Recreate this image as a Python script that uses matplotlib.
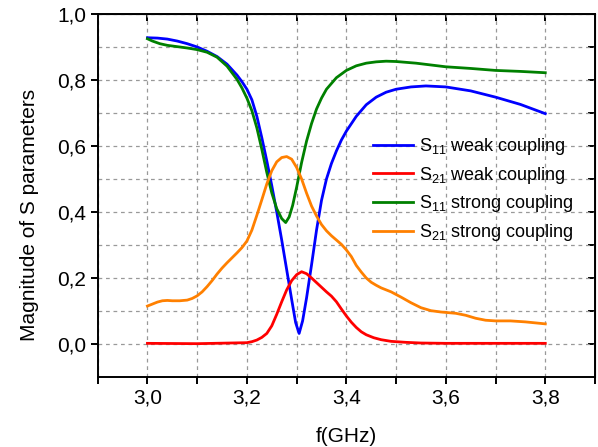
import numpy as np
import matplotlib
matplotlib.use('Agg')
import matplotlib.pyplot as plt
from matplotlib.ticker import FuncFormatter

plt.rcParams['font.family'] = ['Liberation Sans', 'DejaVu Sans']
plt.rcParams['mathtext.fontset'] = 'custom'
plt.rcParams['mathtext.rm'] = 'Liberation Sans'
plt.rcParams['mathtext.it'] = 'Liberation Sans:italic'

# S11 weak coupling
f_s11w = [3.0, 3.02, 3.04, 3.06, 3.08, 3.1, 3.12, 3.14, 3.16, 3.18, 3.19, 3.2, 3.21,
          3.22, 3.23, 3.24, 3.25, 3.26, 3.27, 3.28, 3.29, 3.298, 3.305, 3.312, 3.32,
          3.33, 3.34, 3.35, 3.36, 3.37, 3.38, 3.39, 3.4, 3.42, 3.44, 3.46, 3.48, 3.5,
          3.53, 3.56, 3.6, 3.65, 3.7, 3.75, 3.8]
s11w = [0.928, 0.927, 0.924, 0.918, 0.91, 0.9, 0.887, 0.871, 0.848, 0.815, 0.795, 0.772, 0.74,
        0.69, 0.625, 0.555, 0.48, 0.40, 0.315, 0.225, 0.135, 0.065, 0.032, 0.07, 0.14,
        0.24, 0.345, 0.435, 0.50, 0.547, 0.585, 0.618, 0.645, 0.69, 0.725, 0.748, 0.763, 0.772,
        0.779, 0.782, 0.779, 0.767, 0.748, 0.726, 0.698]

# S21 weak coupling
f_s21w = [3.0, 3.1, 3.2, 3.21, 3.22, 3.23, 3.24, 3.25, 3.26, 3.27, 3.28, 3.29, 3.3, 3.31,
          3.32, 3.33, 3.34, 3.35, 3.36, 3.37, 3.38, 3.39, 3.4, 3.41, 3.42, 3.43, 3.44,
          3.455, 3.47, 3.49, 3.52, 3.55, 3.6, 3.7, 3.8]
s21w = [0.002, 0.001, 0.004, 0.007, 0.012, 0.02, 0.032, 0.055, 0.09, 0.128, 0.164, 0.192, 0.21, 0.219,
        0.213, 0.2, 0.186, 0.172, 0.158, 0.145, 0.128, 0.106, 0.085, 0.066, 0.05, 0.037, 0.028,
        0.019, 0.013, 0.008, 0.005, 0.003, 0.002, 0.002, 0.002]

# S11 strong coupling
f_s11s = [3.0, 3.01, 3.025, 3.04, 3.06, 3.08, 3.1, 3.12, 3.14, 3.16, 3.18, 3.19, 3.2, 3.21,
          3.22, 3.23, 3.24, 3.25, 3.26, 3.27, 3.278, 3.285, 3.292, 3.3, 3.31, 3.32, 3.33,
          3.34, 3.35, 3.36, 3.38, 3.4, 3.42, 3.44, 3.46, 3.48, 3.5, 3.54, 3.6, 3.65, 3.7,
          3.75, 3.8]
s11s = [0.925, 0.918, 0.91, 0.905, 0.901, 0.897, 0.892, 0.884, 0.869, 0.842, 0.802, 0.776, 0.745, 0.707,
        0.655, 0.59, 0.52, 0.458, 0.41, 0.38, 0.368, 0.385, 0.42, 0.475, 0.55, 0.615, 0.668,
        0.712, 0.745, 0.772, 0.807, 0.829, 0.843, 0.851, 0.855, 0.857, 0.856, 0.851, 0.84, 0.835, 0.829,
        0.826, 0.822]

# S21 strong coupling
f_s21s = [3.0, 3.01, 3.02, 3.03, 3.04, 3.05, 3.065, 3.08, 3.09, 3.1, 3.11, 3.12, 3.13, 3.14,
          3.15, 3.16, 3.17, 3.18, 3.19, 3.2, 3.21, 3.22, 3.23, 3.24, 3.25, 3.26, 3.27, 3.28,
          3.29, 3.3, 3.31, 3.32, 3.33, 3.34, 3.35, 3.36, 3.37, 3.38, 3.39, 3.4, 3.41, 3.42,
          3.43, 3.44, 3.45, 3.46, 3.47, 3.49, 3.51, 3.53, 3.55, 3.57, 3.59, 3.62, 3.64, 3.66,
          3.68, 3.7, 3.73, 3.76, 3.8]
s21s = [0.115, 0.121, 0.127, 0.131, 0.132, 0.131, 0.131, 0.133, 0.138, 0.146, 0.158, 0.174, 0.192, 0.212,
        0.23, 0.246, 0.261, 0.276, 0.292, 0.312, 0.345, 0.39, 0.437, 0.485, 0.525, 0.552, 0.565, 0.568,
        0.56, 0.535, 0.5, 0.457, 0.418, 0.388, 0.362, 0.343, 0.328, 0.315, 0.302, 0.285, 0.265, 0.238,
        0.218, 0.2, 0.187, 0.178, 0.17, 0.158, 0.142, 0.125, 0.11, 0.101, 0.097, 0.093, 0.087, 0.078,
        0.072, 0.07, 0.07, 0.067, 0.061]

fig = plt.figure(figsize=(5.98, 4.47), dpi=100)
ax = fig.add_axes([0.1634, 0.1566, 0.8316, 0.8121])

ax.plot(f_s11w, s11w, color='#0000ff', lw=2.0, label=r'S$_{11}$ weak coupling')
ax.plot(f_s21w, s21w, color='#ff0000', lw=2.0, label=r'S$_{21}$ weak coupling')
ax.plot(f_s11s, s11s, color='#008000', lw=2.0, label=r'S$_{11}$ strong coupling')
ax.plot(f_s21s, s21s, color='#ff8000', lw=2.0, label=r'S$_{21}$ strong coupling')

ax.set_xlim(2.9, 3.9)
ax.set_ylim(-0.1, 1.0)

ax.set_xticks(np.arange(3.0, 3.81, 0.2))
ax.set_xticks(np.arange(2.9, 3.91, 0.1), minor=True)
ax.set_yticks(np.arange(0.0, 1.01, 0.2))
ax.set_yticks(np.arange(0.1, 1.0, 0.2), minor=True)

comma = FuncFormatter(lambda v, p: ('%.1f' % v).replace('.', ','))
ax.xaxis.set_major_formatter(comma)
ax.yaxis.set_major_formatter(comma)

ax.tick_params(axis='both', which='major', direction='out', length=5, width=1.4, labelsize=15)
ax.tick_params(axis='x', which='minor', direction='out', length=5, width=1.4)
ax.tick_params(axis='y', which='minor', length=0)

ax.grid(True, which='both', color='#999999', linestyle=(0, (3, 3)), linewidth=0.9)
for s in ax.spines.values():
    s.set_linewidth(1.4)

# inward ticks on top and right
top = ax.secondary_xaxis('top')
top.set_xticks(np.arange(3.0, 3.81, 0.1))
top.tick_params(direction='in', length=5, width=1.4, labeltop=False)
right = ax.secondary_yaxis('right')
right.set_yticks(np.arange(0.0, 0.91, 0.1))
right.tick_params(direction='in', length=5, width=1.4, labelright=False)

ax.set_xlabel('f(GHz)', fontsize=15, labelpad=14)
ax.set_ylabel('Magnitude of S parameters', fontsize=15)
ax.yaxis.set_label_coords(-0.118, 0.446)

ax.legend(loc='center left', bbox_to_anchor=(0.5536, 0.5165), frameon=False,
          fontsize=13, borderpad=0, borderaxespad=0, handlelength=2.2,
          handletextpad=0.35, labelspacing=0.42)

fig.savefig('out.png', dpi=100)
